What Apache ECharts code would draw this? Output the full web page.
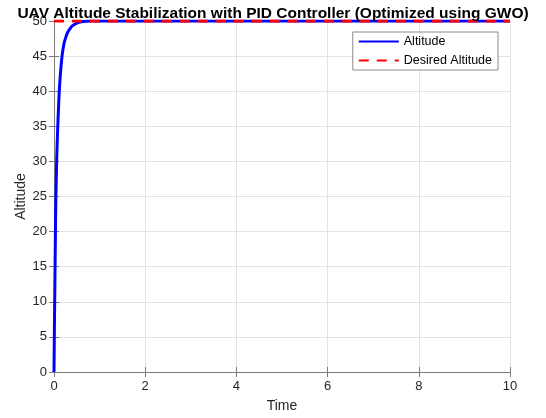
<!DOCTYPE html>
<html>
<head>
<meta charset="utf-8">
<script src="https://cdn.jsdelivr.net/npm/echarts@6/dist/echarts.min.js"></script>
<style>
  html, body { margin: 0; padding: 0; background: #fff; }
  #chart { width: 546px; height: 418px; }
</style>
</head>
<body>
<div id="chart"></div>
<script>
var time = [0, 0.01, 0.02, 0.03, 0.04, 0.05, 0.06, 0.08, 0.1, 0.12, 0.15, 0.18, 0.22, 0.26, 0.3, 0.35, 0.4, 0.5, 0.6, 0.8, 1, 2, 3, 4, 5, 6, 7, 8, 9, 10];
var altitude = [0, 7, 13, 19, 24.5, 27.5, 30.5, 34.5, 37.8, 40.5, 43.2, 45.2, 46.8, 47.7, 48.4, 48.9, 49.3, 49.7, 49.9, 50, 50, 50, 50, 50, 50, 50, 50, 50, 50, 50];
var desiredTime = [0, 10];
var desiredAltitude = [50, 50];
var xTicks = [0, 2, 4, 6, 8, 10];
var yTicks = [0, 5, 10, 15, 20, 25, 30, 35, 40, 45, 50];

var font = "'Liberation Sans', Arial, sans-serif";
var axisGray = "#7a7a7a";

var chart = echarts.init(document.getElementById("chart"), null, { renderer: "canvas" });

function pairs(xs, ys) {
  return xs.map(function (x, i) { return [x, ys[i]]; });
}

var option = {
  animation: false,
  backgroundColor: "#fff",
  title: {
    text: "UAV Altitude Stabilization with PID Controller (Optimized using GWO)",
    left: "center",
    top: 1,
    textStyle: { fontFamily: font, fontSize: 15.5, fontWeight: "bold", color: "#000" }
  },
  legend: {
    data: ["Altitude", "Desired Altitude"],
    orient: "vertical",
    right: 48,
    top: 32,
    itemWidth: 40,
    itemHeight: 10,
    itemGap: 6,
    padding: [3, 6, 3, 5],
    borderColor: "#8c8c8c",
    borderWidth: 1,
    backgroundColor: "#fff",
    itemStyle: { opacity: 0 },
    textStyle: { fontFamily: font, fontSize: 12.5, color: "#000" }
  },
  grid: { left: 54, right: 36, top: 21, bottom: 44, containLabel: false },
  xAxis: [
    {
      type: "value",
      min: 0, max: 10, interval: 2,
      name: "Time",
      nameLocation: "middle",
      nameGap: 27,
      nameTextStyle: { fontFamily: font, fontSize: 14, color: "#262626" },
      axisLine: { lineStyle: { color: axisGray } },
      axisTick: { inside: true, length: 5, lineStyle: { color: axisGray } },
      axisLabel: { fontFamily: font, fontSize: 13, color: "#262626", margin: 8 },
      splitLine: { show: true, lineStyle: { color: "#e3e3e3" } }
    },
    {
      type: "value",
      position: "top",
      min: 0, max: 10, interval: 2,
      axisLine: { lineStyle: { color: axisGray } },
      axisTick: { inside: true, length: 5, lineStyle: { color: axisGray } },
      axisLabel: { show: false },
      splitLine: { show: false }
    }
  ],
  yAxis: [
    {
      type: "value",
      min: 0, max: 50, interval: 5,
      name: "Altitude",
      nameLocation: "middle",
      nameGap: 26,
      nameMoveOverlap: false,
      nameTextStyle: { fontFamily: font, fontSize: 14, color: "#262626" },
      axisLine: { show: true, lineStyle: { color: axisGray } },
      axisTick: { show: true, inside: true, length: 5, lineStyle: { color: axisGray } },
      axisLabel: { fontFamily: font, fontSize: 13, color: "#262626", margin: 7 },
      splitLine: { show: true, lineStyle: { color: "#e3e3e3" } }
    },
    {
      type: "value",
      position: "right",
      min: 0, max: 50, interval: 5,
      axisLine: { show: true, lineStyle: { color: axisGray } },
      axisTick: { show: true, inside: true, length: 5, lineStyle: { color: axisGray } },
      axisLabel: { show: false },
      splitLine: { show: false }
    }
  ],
  series: [
    {
      name: "Altitude",
      type: "line",
      data: pairs(time, altitude),
      smooth: 0.3,
      showSymbol: false,
      symbol: "none",
      color: "#0000ff",
      lineStyle: { color: "#0000ff", width: 3 },
      z: 3
    },
    {
      name: "Desired Altitude",
      type: "line",
      data: pairs(desiredTime, desiredAltitude),
      showSymbol: false,
      symbol: "none",
      color: "#ff0000",
      lineStyle: { color: "#ff0000", width: 3, type: [10, 8] },
      z: 4
    }
  ]
};
chart.setOption(option);
</script>
</body>
</html>
